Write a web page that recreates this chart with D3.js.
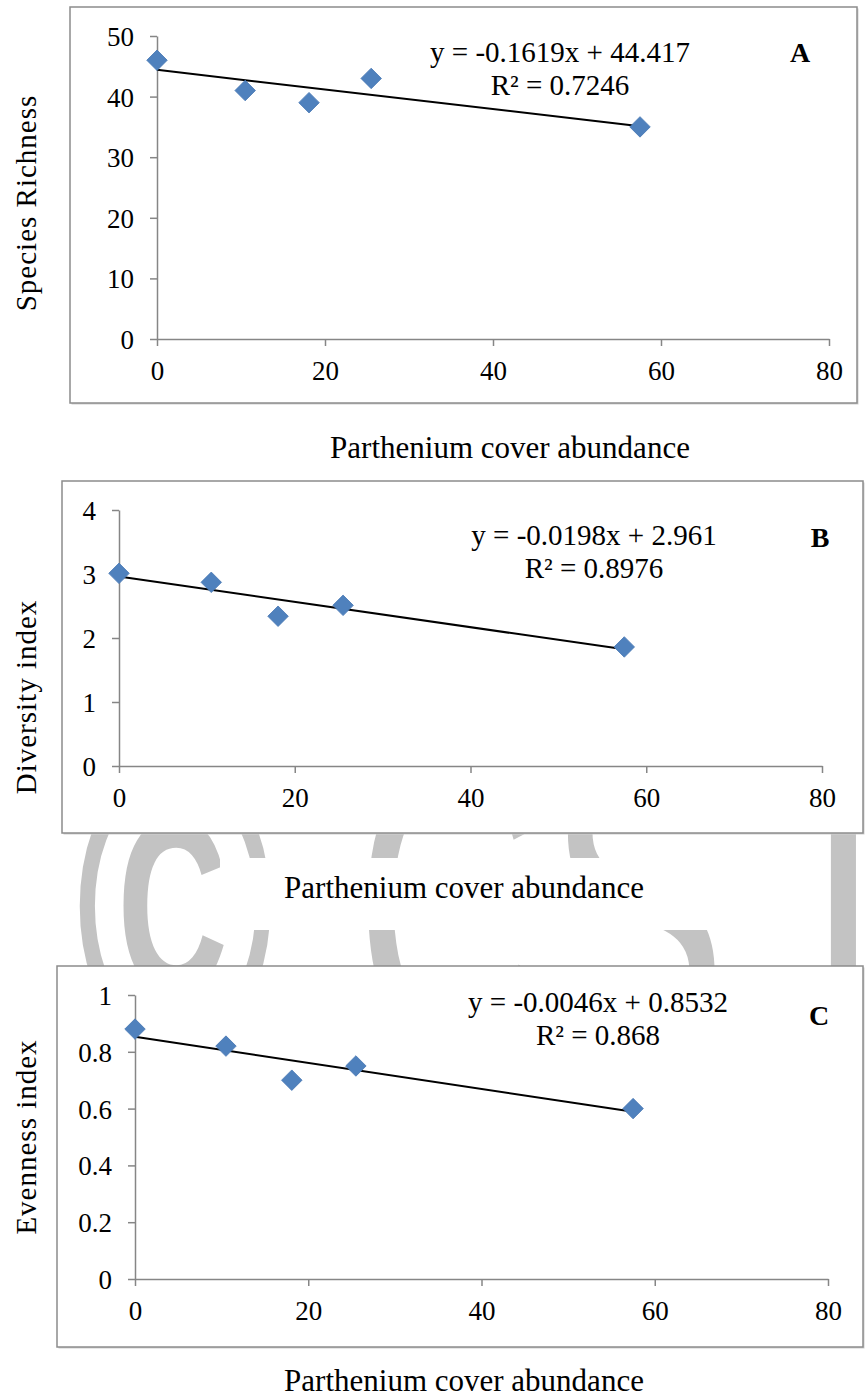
<!DOCTYPE html>
<html>
<head>
<meta charset="utf-8">
<script src="https://cdn.jsdelivr.net/npm/d3@7"></script>
<style>
    body { margin: 0; background: #ffffff; }
    svg { display: block; }
    text { font-family: 'Liberation Serif', 'Times New Roman', serif; fill: #000000; }
    .tick text { font-family: 'Liberation Serif', 'Times New Roman', serif; font-size: 27px; }
    .wm { font-family: 'Liberation Sans', Arial, sans-serif; fill: #c3c3c3; }
</style>
</head>
<body>
<div id="chart"></div>
<script>
var width = 865;
var height = 1394;

// data
var xTicks = [0, 20, 40, 60, 80];
var cover = [0, 10.5, 18.1, 25.5, 57.5];
var richness = [46, 41, 39, 43, 35];
var diversity = [3.01, 2.87, 2.34, 2.51, 1.86];
var evenness = [0.88, 0.82, 0.70, 0.75, 0.60];
var slopes = [-0.1619, -0.0198, -0.0046];
var intercepts = [44.417, 2.961, 0.8532];
var rSquared = ["0.7246", "0.8976", "0.868"];
var yTicksA = [0, 10, 20, 30, 40, 50];
var yTicksB = [0, 1, 2, 3, 4];
var yTicksC = [0, 0.2, 0.4, 0.6, 0.8, 1];
var yLabels = ["Species Richness", "Diversity index", "Evenness index"];
var panelLetters = ["A", "B", "C"];
var xTitle = "Parthenium cover abundance";
var watermark = ["\u00A9", "C", "S", "J"];

var markerColor = "#4f81bd";
var axisColor = "#868686";
var serif = "'Liberation Serif', 'Times New Roman', serif";

////////////////////////////////////////////////////////////////////////////////

var svg = d3.select("#chart").append("svg")
    .attr("width", width)
    .attr("height", height);

// grey watermark, mostly hidden behind the panels
var wm = svg.append("g")
    .attr("transform", "translate(0,900) scale(1,1.6)");
var wmX = [175, 452, 637, 741];
var wmAnchor = ["middle", "middle", "middle", "start"];
wm.selectAll("text")
    .data(watermark)
    .enter().append("text")
    .attr("class", "wm")
    .attr("x", function(d, i) { return wmX[i]; })
    .attr("y", 97)
    .attr("text-anchor", function(d, i) { return wmAnchor[i]; })
    .style("font-weight", function(d, i) { return i == 0 ? "bold" : "normal"; })
    .style("font-size", "270px")
    .text(function(d) { return d; });

function drawPanel(p)
{
    var g = svg.append("g");

    // chart frame with a faint shadow on the right and bottom
    g.append("rect")
        .attr("x", p.frame[0] + 1.5)
        .attr("y", p.frame[1] + 1.5)
        .attr("width", p.frame[2] - p.frame[0])
        .attr("height", p.frame[3] - p.frame[1])
        .attr("fill", "#d0d0d0");
    g.append("rect")
        .attr("x", p.frame[0])
        .attr("y", p.frame[1])
        .attr("width", p.frame[2] - p.frame[0])
        .attr("height", p.frame[3] - p.frame[1])
        .attr("fill", "#ffffff")
        .attr("stroke", "#8c8c8c")
        .attr("stroke-width", 1.5);

    var x = d3.scaleLinear().domain([0, 80]).range([p.left, p.right]);
    var y = d3.scaleLinear().domain([0, p.yMax]).range([p.bottom, p.top]);

    var xAxis = g.append("g")
        .attr("transform", "translate(0," + p.bottom + ")")
        .call(d3.axisBottom(x).tickValues(xTicks).tickSize(7).tickSizeOuter(0).tickPadding(8));
    var yAxis = g.append("g")
        .attr("transform", "translate(" + p.left + ",0)")
        .call(d3.axisLeft(y).tickValues(p.yTicks).tickSize(7).tickSizeOuter(0).tickPadding(16)
            .tickFormat(function(d) { return String(d); }));

    [xAxis, yAxis].forEach(function(a) {
        a.attr("font-family", serif).attr("font-size", 27);
        a.select(".domain").attr("stroke", axisColor).attr("stroke-width", 1.5);
        a.selectAll(".tick line").attr("stroke", axisColor).attr("stroke-width", 1.5);
        a.selectAll(".tick text")
            .attr("fill", "#000000")
            .style("font-family", serif)
            .style("font-size", "27px");
    });
    xAxis.selectAll(".tick text").attr("dy", "0.95em");
    yAxis.selectAll(".tick text").attr("dy", "0.35em");

    // linear trendline from the fitted equation
    var x0 = d3.min(cover), x1 = d3.max(cover);
    g.append("line")
        .attr("x1", x(x0)).attr("y1", y(p.intercept + p.slope * x0))
        .attr("x2", x(x1)).attr("y2", y(p.intercept + p.slope * x1))
        .attr("stroke", "#000000")
        .attr("stroke-width", 2);

    var diamond = d3.symbol().type(d3.symbolSquare).size(210);
    g.selectAll(".pt")
        .data(p.values)
        .enter().append("path")
        .attr("class", "pt")
        .attr("d", diamond)
        .attr("transform", function(d, i) {
            return "translate(" + x(cover[i]) + "," + y(d) + ") rotate(45)";
        })
        .attr("fill", markerColor)
        .attr("stroke", "#4a7ab5")
        .attr("stroke-width", 0.8);

    var sign = p.intercept >= 0 ? " + " : " - ";
    g.append("text")
        .attr("x", p.eq[0]).attr("y", p.eq[1])
        .attr("dy", "0.35em")
        .attr("text-anchor", "middle")
        .style("font-size", "29px")
        .text("y = " + p.slope + "x" + sign + Math.abs(p.intercept));
    g.append("text")
        .attr("x", p.eq[0]).attr("y", p.eq[2])
        .attr("dy", "0.35em")
        .attr("text-anchor", "middle")
        .style("font-size", "29px")
        .text("R\u00B2 = " + p.r2);

    g.append("text")
        .attr("x", p.letter[0]).attr("y", p.letter[1])
        .attr("dy", "0.35em")
        .attr("text-anchor", "middle")
        .style("font-size", "28px")
        .style("font-weight", "bold")
        .text(p.name);

    g.append("text")
        .attr("transform", "translate(" + p.yLabel[0] + "," + p.yLabel[1] + ") rotate(-90)")
        .attr("dy", "0.3em")
        .attr("text-anchor", "middle")
        .style("font-size", "29px")
        .style("letter-spacing", "1px")
        .text(p.label);

    if (p.titleBox)
    {
        g.append("rect")
            .attr("x", p.titleBox[0]).attr("y", p.titleBox[1])
            .attr("width", p.titleBox[2] - p.titleBox[0])
            .attr("height", p.titleBox[3] - p.titleBox[1])
            .attr("fill", "#ffffff");
    }
    g.append("text")
        .attr("x", p.title[0]).attr("y", p.title[1])
        .attr("dy", "0.35em")
        .attr("text-anchor", "middle")
        .style("font-size", "31px")
        .text(xTitle);
}

drawPanel({
    name: panelLetters[0], label: yLabels[0], values: richness, yMax: 50, yTicks: yTicksA,
    slope: slopes[0], intercept: intercepts[0], r2: rSquared[0],
    frame: [70, 7, 857, 403], left: 157, right: 829, top: 36, bottom: 339,
    eq: [560, 52, 85], letter: [800, 52], yLabel: [27, 203], title: [510, 447]
});
drawPanel({
    name: panelLetters[1], label: yLabels[1], values: diversity, yMax: 4, yTicks: yTicksB,
    slope: slopes[1], intercept: intercepts[1], r2: rSquared[1],
    frame: [62, 481, 863, 833], left: 119, right: 822, top: 510, bottom: 766,
    eq: [594, 535, 568], letter: [820, 537], yLabel: [27, 697], title: [464, 887],
    titleBox: [220, 858, 827, 930]
});
drawPanel({
    name: panelLetters[2], label: yLabels[2], values: evenness, yMax: 1, yTicks: yTicksC,
    slope: slopes[2], intercept: intercepts[2], r2: rSquared[2],
    frame: [57, 966, 863, 1347], left: 135, right: 828, top: 995, bottom: 1279,
    eq: [598, 1002, 1035], letter: [819, 1015], yLabel: [27, 1137], title: [464, 1380]
});
</script>
</body>
</html>
